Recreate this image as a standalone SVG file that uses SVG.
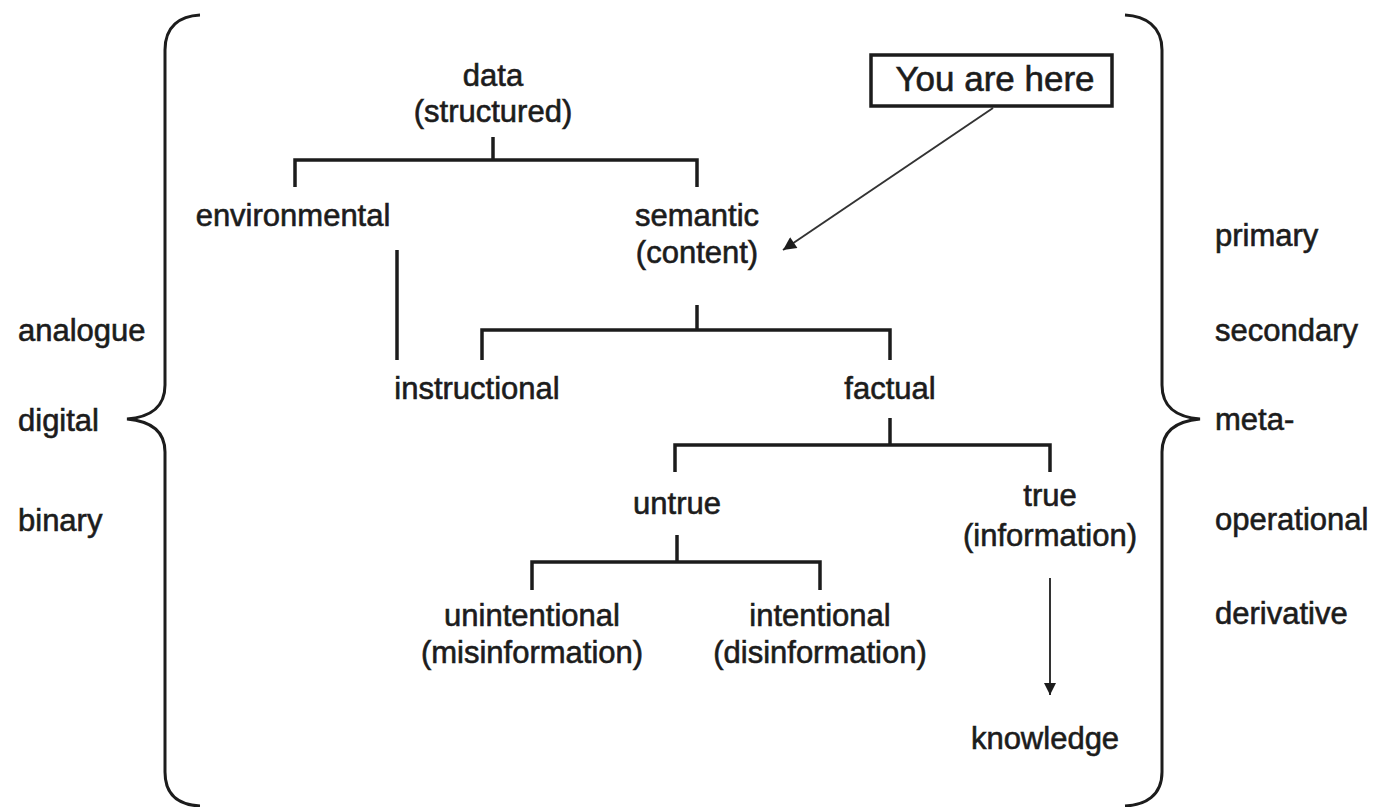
<svg xmlns="http://www.w3.org/2000/svg" width="1400" height="807" viewBox="0 0 1400 807">
<style>
text{font-family:"Liberation Sans",Arial,sans-serif;font-size:31px;fill:#1c1c1c;stroke:#1c1c1c;stroke-width:0.6}
.c{text-anchor:middle}
.ln{fill:none;stroke:#1c1c1c;stroke-width:3.5;stroke-linecap:butt}
.thin{fill:none;stroke:#333333;stroke-width:2}
.br{fill:none;stroke:#1c1c1c;stroke-width:3}
</style>
<defs>
<marker id="ah" viewBox="0 0 10 10" refX="10" refY="5" markerWidth="16" markerHeight="12" markerUnits="userSpaceOnUse" orient="auto">
<path d="M0,0 L10,5 L0,10 z" fill="#1c1c1c"/>
</marker>
<marker id="ah2" viewBox="0 0 10 10" refX="10" refY="5" markerWidth="18" markerHeight="13" markerUnits="userSpaceOnUse" orient="auto">
<path d="M0,0 L10,5 L0,10 z" fill="#1c1c1c"/>
</marker>
</defs>
<rect width="1400" height="807" fill="#ffffff"/>
<g id="braces">
<path class="br" d="M 200 15 C 180 16, 165 26, 165 50 L 165 385 C 165 408, 150 417, 127 419 C 150 421, 165 430, 165 452 L 165 772 C 165 796, 180 805, 200 806"/>
<path class="br" d="M 1125 15 C 1145 16, 1162 26, 1162 50 L 1162 385 C 1162 408, 1177 417, 1200 419 C 1177 421, 1162 430, 1162 452 L 1162 772 C 1162 796, 1145 805, 1125 806"/>
</g>
<g id="left-labels">
<text x="18" y="341">analogue</text>
<text x="18" y="431">digital</text>
<text x="18" y="531">binary</text>
</g>
<g id="right-labels">
<text x="1215" y="246">primary</text>
<text x="1215" y="341">secondary</text>
<text x="1215" y="430">meta-</text>
<text x="1215" y="530">operational</text>
<text x="1215" y="624">derivative</text>
</g>
<g id="connectors">
<polyline class="ln" points="493,137 493,160"/>
<polyline class="ln" points="295,187 295,160 697,160 697,187"/>
<line class="ln" x1="397" y1="250" x2="397" y2="360"/>
<polyline class="ln" points="697,305 697,330"/>
<polyline class="ln" points="482,360 482,330 890,330 890,360"/>
<polyline class="ln" points="890,418 890,445"/>
<polyline class="ln" points="675,472 675,445 1050,445 1050,472"/>
<polyline class="ln" points="677,535 677,562"/>
<polyline class="ln" points="532,590 532,562 820,562 820,590"/>
<line class="thin" x1="1050" y1="578" x2="1050" y2="695" marker-end="url(#ah)"/>
<line class="thin" x1="993" y1="108" x2="783" y2="250" marker-end="url(#ah2)"/>
</g>
<g id="node-data"><text class="c" x="493" y="86">data</text><text class="c" x="493" y="122">(structured)</text></g>
<g id="node-environmental"><text class="c" x="293" y="226">environmental</text></g>
<g id="node-semantic"><text class="c" x="697" y="226">semantic</text><text class="c" x="697" y="263">(content)</text></g>
<g id="node-instructional"><text class="c" x="477" y="399">instructional</text></g>
<g id="node-factual"><text class="c" x="890" y="399">factual</text></g>
<g id="node-untrue"><text class="c" x="677" y="514">untrue</text></g>
<g id="node-true"><text class="c" x="1050" y="506">true</text><text class="c" x="1050" y="546">(information)</text></g>
<g id="node-unintentional"><text class="c" x="532" y="626">unintentional</text><text class="c" x="532" y="663">(misinformation)</text></g>
<g id="node-intentional"><text class="c" x="820" y="626">intentional</text><text class="c" x="820" y="663">(disinformation)</text></g>
<g id="node-knowledge"><text class="c" x="1045" y="749">knowledge</text></g>
<g id="node-here"><rect x="871" y="55" width="241" height="51" fill="none" stroke="#1c1c1c" stroke-width="3.5"/><text class="c" x="995" y="91" style="font-size:35px">You are here</text></g>
</svg>
